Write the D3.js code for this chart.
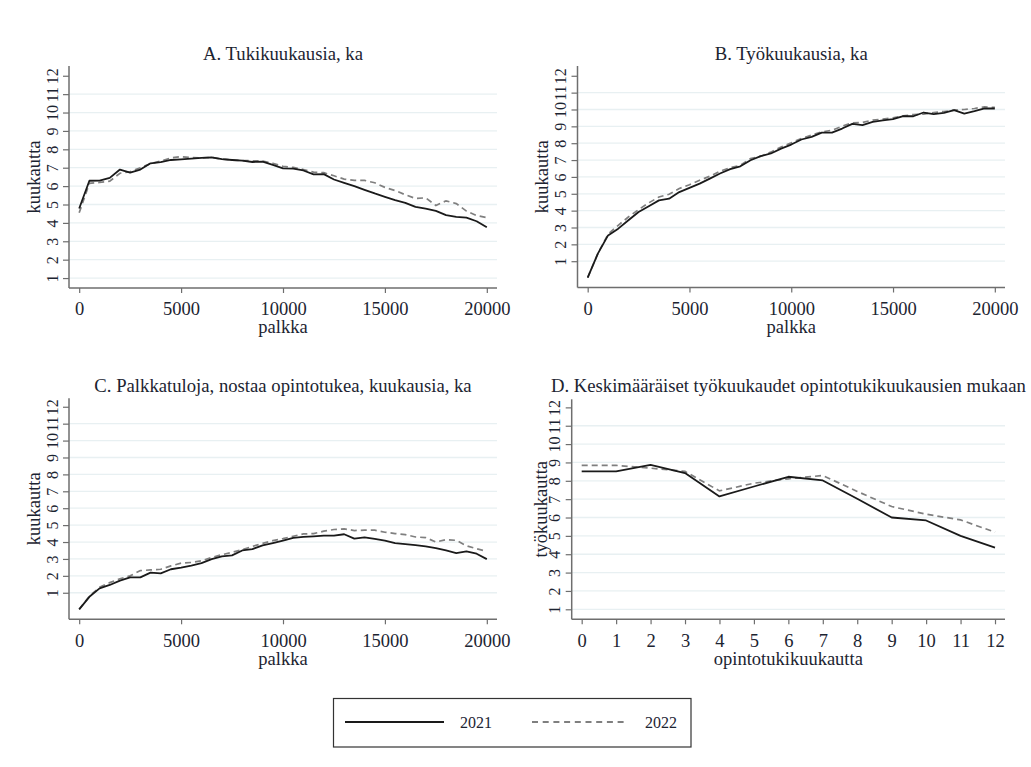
<!DOCTYPE html>
<html>
<head>
<meta charset="utf-8">
<script src="https://cdn.jsdelivr.net/npm/d3@7"></script>
<style>
  html, body { margin: 0; padding: 0; background: #ffffff; }
  svg { display: block; }
  svg text { font-family: "Liberation Serif", "DejaVu Serif", serif !important; fill: #1c2431; }
</style>
</head>
<body>
<svg id="chart" width="1031" height="767"></svg>
<script>
// ---------------- DATA ----------------
const palkka = [0, 500, 1000, 1500, 2000, 2500, 3000, 3500, 4000, 4500, 5000, 5500, 6000, 6500, 7000, 7500,
  8000, 8500, 9000, 9500, 10000, 10500, 11000, 11500, 12000, 12500, 13000, 13500, 14000, 14500, 15000,
  15500, 16000, 16500, 17000, 17500, 18000, 18500, 19000, 19500, 20000];

const tukiKk2021 = [4.78, 6.29, 6.30, 6.45, 6.90, 6.73, 6.90, 7.24, 7.30, 7.42, 7.45, 7.49, 7.53, 7.56, 7.47, 7.42,
  7.38, 7.31, 7.33, 7.15, 6.96, 6.95, 6.85, 6.64, 6.65, 6.36, 6.18, 6.00, 5.80, 5.60, 5.42,
  5.24, 5.09, 4.87, 4.78, 4.65, 4.42, 4.33, 4.29, 4.09, 3.76];
const tukiKk2022 = [4.55, 6.15, 6.20, 6.27, 6.70, 6.78, 7.00, 7.22, 7.36, 7.53, 7.60, 7.55, 7.53, 7.56, 7.47, 7.42,
  7.38, 7.38, 7.36, 7.24, 7.07, 7.02, 6.90, 6.76, 6.73, 6.56, 6.38, 6.31, 6.31, 6.18, 5.93,
  5.76, 5.53, 5.33, 5.36, 4.95, 5.20, 5.05, 4.64, 4.40, 4.29];

const tyoKk2021 = [0.02, 1.45, 2.53, 2.93, 3.43, 3.92, 4.26, 4.61, 4.71, 5.10, 5.35, 5.60, 5.90, 6.20, 6.46, 6.63,
  6.99, 7.23, 7.39, 7.68, 7.92, 8.22, 8.38, 8.63, 8.63, 8.87, 9.15, 9.07, 9.27, 9.35, 9.43,
  9.60, 9.60, 9.82, 9.72, 9.80, 9.96, 9.76, 9.90, 10.06, 10.06];
const tyoKk2022 = [0.02, 1.45, 2.60, 3.13, 3.62, 4.06, 4.46, 4.81, 4.97, 5.31, 5.54, 5.80, 6.04, 6.34, 6.55, 6.69,
  7.09, 7.23, 7.47, 7.78, 8.02, 8.28, 8.48, 8.67, 8.77, 9.01, 9.21, 9.23, 9.37, 9.43, 9.50,
  9.62, 9.70, 9.72, 9.82, 9.88, 9.96, 10.00, 10.06, 10.16, 10.12];

const nostaaKk2021 = [0.02, 0.76, 1.26, 1.46, 1.72, 1.91, 1.91, 2.19, 2.15, 2.39, 2.49, 2.61, 2.75, 2.99, 3.15, 3.21,
  3.50, 3.58, 3.80, 3.94, 4.08, 4.24, 4.30, 4.34, 4.38, 4.38, 4.46, 4.20, 4.28, 4.18, 4.08,
  3.94, 3.88, 3.82, 3.74, 3.64, 3.50, 3.35, 3.45, 3.31, 2.99];
const nostaaKk2022 = [0.02, 0.80, 1.32, 1.60, 1.83, 2.00, 2.31, 2.35, 2.39, 2.59, 2.75, 2.79, 2.89, 3.09, 3.25, 3.39,
  3.55, 3.74, 3.92, 4.08, 4.20, 4.34, 4.48, 4.50, 4.64, 4.74, 4.78, 4.68, 4.70, 4.70, 4.58,
  4.50, 4.44, 4.30, 4.26, 4.00, 4.14, 4.10, 3.78, 3.60, 3.45];

const opintotukiKk = [0, 1, 2, 3, 4, 5, 6, 7, 8, 9, 10, 11, 12];
const dTyoKk2021 = [8.51, 8.51, 8.87, 8.42, 7.15, 7.69, 8.22, 8.02, 7.02, 6.00, 5.84, 5.00, 4.36];
const dTyoKk2022 = [8.84, 8.84, 8.69, 8.51, 7.45, 7.87, 8.11, 8.29, 7.42, 6.60, 6.18, 5.87, 5.20];

const yTicks = [1, 2, 3, 4, 5, 6, 7, 8, 9, 10, 11, 12];
const gridTicks = [1, 2, 3, 4, 5, 6, 7, 8, 9, 10, 11];
const palkkaTicks = [0, 5000, 10000, 15000, 20000];
const seriesNames = ["2021", "2022"];

// ---------------- LAYOUT ----------------
const SERIF = "Liberation Serif";
const svg = d3.select("#chart");

const panels = [
  { title: "A. Tukikuukausia, ka", xLabel: "palkka", yLabel: "kuukautta",
    x: palkka, s1: tukiKk2021, s2: tukiKk2022, xTicks: palkkaTicks,
    xDom: [-500, 20500], xR: [69, 497], yDom: [0.46, 12.53], yR: [288, 66],
    titleY: 60, tickBase: 315, xLabBase: 333, yLabOff: -29.5 },
  { title: "B. Työkuukausia, ka", xLabel: "palkka", yLabel: "kuukautta",
    x: palkka, s1: tyoKk2021, s2: tyoKk2022, xTicks: palkkaTicks,
    xDom: [-500, 20500], xR: [577.5, 1005], yDom: [-0.56, 12.58], yR: [287.5, 66],
    titleY: 60, tickBase: 315, xLabBase: 333, yLabOff: -29.5 },
  { title: "C. Palkkatuloja, nostaa opintotukea, kuukausia, ka", xLabel: "palkka", yLabel: "kuukautta",
    x: palkka, s1: nostaaKk2021, s2: nostaaKk2022, xTicks: palkkaTicks,
    xDom: [-500, 20500], xR: [69, 497], yDom: [-0.57, 12.5], yR: [619.3, 398.3],
    titleY: 392, tickBase: 647, xLabBase: 665, yLabOff: -29.5 },
  { title: "D. Keskimääräiset työkuukaudet opintotukikuukausien mukaan", xLabel: "opintotukikuukautta", yLabel: "työkuukautta",
    x: opintotukiKk, s1: dTyoKk2021, s2: dTyoKk2022, xTicks: opintotukiKk,
    xDom: [-0.29, 12.29], xR: [571.7, 1005], yDom: [0.455, 12.44], yR: [619.3, 399.3],
    titleY: 392, tickBase: 647, xLabBase: 665, yLabOff: -25 }
];

const axisColor = "#6e6e6e";
const gridColor = "#e8f0f2";

panels.forEach(p => {
  const x = d3.scaleLinear().domain(p.xDom).range(p.xR);
  const y = d3.scaleLinear().domain(p.yDom).range(p.yR);
  const g = svg.append("g").attr("font-family", SERIF);
  const left = p.xR[0], right = p.xR[1], bottom = p.yR[0], top = p.yR[1];

  // gridlines
  g.append("g").selectAll("line").data(gridTicks).join("line")
    .attr("x1", left).attr("x2", right)
    .attr("y1", d => y(d)).attr("y2", d => y(d))
    .attr("stroke", gridColor).attr("stroke-width", 1.3);

  // y axis
  const yAxis = g.append("g").attr("transform", `translate(${left},0)`)
    .call(d3.axisLeft(y).tickValues(yTicks).tickSize(6).tickFormat(d3.format("d")))
    .attr("font-family", SERIF).attr("font-size", 16);
  yAxis.select(".domain").attr("stroke", axisColor).attr("stroke-width", 1.5);
  yAxis.selectAll(".tick line").attr("stroke", axisColor).attr("stroke-width", 1.2);
  yAxis.selectAll(".tick text")
    .attr("x", null).attr("dy", null)
    .attr("text-anchor", "middle")
    .attr("transform", "translate(-11.5,0) rotate(-90)")
    .style("font-size", "16px")
    .style("font-family", SERIF)
    .attr("fill", "#1c2431");

  // x axis
  const xAxis = g.append("g").attr("transform", `translate(0,${bottom})`)
    .call(d3.axisBottom(x).tickValues(p.xTicks).tickSize(5).tickFormat(d3.format("d")))
    .attr("font-family", SERIF).attr("font-size", 18.5);
  xAxis.select(".domain").attr("stroke", axisColor).attr("stroke-width", 1.5);
  xAxis.selectAll(".tick line").attr("stroke", axisColor).attr("stroke-width", 1.2);
  xAxis.selectAll(".tick text")
    .attr("y", p.tickBase - bottom).attr("dy", null)
    .style("font-size", "18.5px")
    .style("font-family", SERIF)
    .attr("fill", "#1c2431");

  // domain paths spanning the full plot region (no outer ticks)
  yAxis.select(".domain").attr("d", `M0,${bottom}V${top}`);
  xAxis.select(".domain").attr("d", `M${left},0H${right}`);

  // lines
  const line = (vals) => d3.line().x((d, i) => x(p.x[i])).y(d => y(d))(vals);
  g.append("path").attr("d", line(p.s2))
    .attr("fill", "none").attr("stroke", "#7f7f7f").attr("stroke-width", 1.7)
    .attr("stroke-dasharray", "6,4");
  g.append("path").attr("d", line(p.s1))
    .attr("fill", "none").attr("stroke", "#1a1a1a").attr("stroke-width", 1.8)
    .attr("stroke-linejoin", "round");

  // titles
  const cx = (left + right) / 2;
  g.append("text").attr("x", cx).attr("y", p.titleY).attr("text-anchor", "middle")
    .style("font-size", "18.7px").text(p.title);
  g.append("text").attr("x", cx).attr("y", p.xLabBase).attr("text-anchor", "middle")
    .style("font-size", "18.5px").text(p.xLabel);
  g.append("text")
    .attr("transform", `translate(${left + p.yLabOff},${(top + bottom) / 2}) rotate(-90)`)
    .attr("text-anchor", "middle")
    .style("font-size", "18.5px").text(p.yLabel);
});

// ---------------- LEGEND ----------------
const lg = svg.append("g").attr("font-family", SERIF);
lg.append("rect").attr("x", 333.5).attr("y", 698.5).attr("width", 357.5).attr("height", 48.5)
  .attr("fill", "#fff").attr("stroke", "#333").attr("stroke-width", 1.2);
lg.append("line").attr("x1", 345).attr("x2", 444).attr("y1", 722).attr("y2", 722)
  .attr("stroke", "#1a1a1a").attr("stroke-width", 2);
lg.append("text").attr("x", 460).attr("y", 728).style("font-size", "16px").text(seriesNames[0]);
lg.append("line").attr("x1", 532).attr("x2", 628).attr("y1", 722).attr("y2", 722)
  .attr("stroke", "#7f7f7f").attr("stroke-width", 1.8).attr("stroke-dasharray", "6,4.7");
lg.append("text").attr("x", 645).attr("y", 728).style("font-size", "16px").text(seriesNames[1]);
</script>
</body>
</html>
